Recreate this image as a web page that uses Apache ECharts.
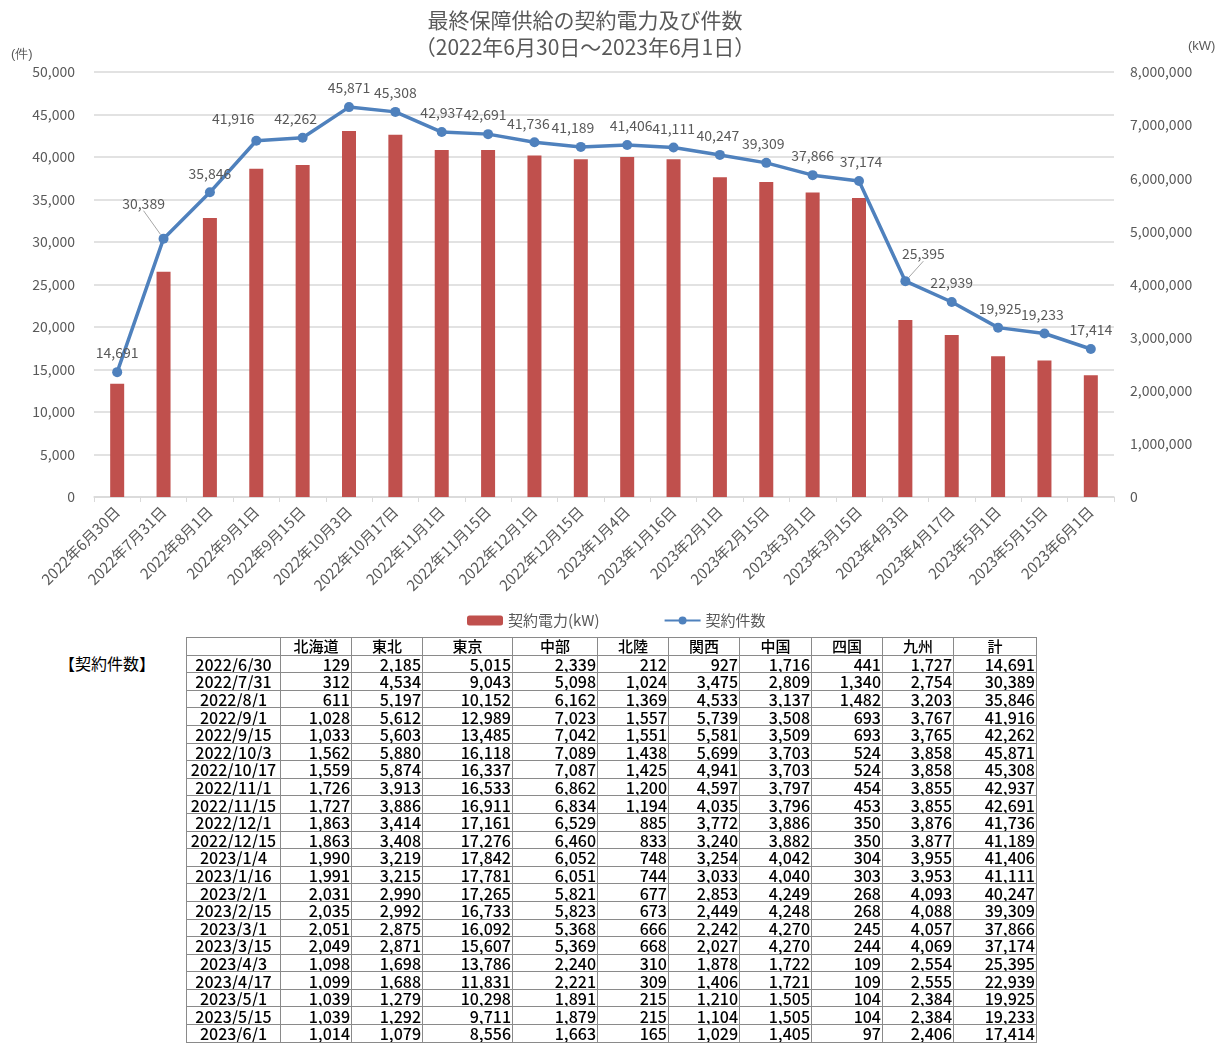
<!DOCTYPE html>
<html>
<head>
  <meta charset="utf-8">
  <title>最終保障供給の契約電力及び件数</title>
  <script src="https://cdn.jsdelivr.net/npm/echarts@6/dist/echarts.min.js"></script>
  <style>
    body { margin: 0; background: #ffffff; font-family: "Noto Sans CJK JP", sans-serif; }
    #chart { position: absolute; left: 0; top: 0; width: 1227px; height: 640px; }
    .tbl-title { position: absolute; left: 59px; top: 653px; font-size: 16px; color: #000; font-weight: 400; line-height: 20px; }
    table.data {
      position: absolute; left: 186px; top: 637px;
      border-collapse: collapse; table-layout: fixed;
      font-size: 16px; color: #000; font-weight: 500;
    }
    table.data td {
      border: 1px solid #8a8a8a; height: 16.6px; line-height: 16px;
      padding: 0 1px; text-align: right; white-space: nowrap; overflow: hidden;
    }
    table.data td.c { text-align: center; }
    table.data tr.head td { text-align: center; font-size: 15px; }
  </style>
</head>
<body>
<div id="chart"></div>
<div class="tbl-title">【契約件数】</div>
<table class="data" id="tbl"></table>
<script>
  // 日付
  var dates = ['2022/6/30', '2022/7/31', '2022/8/1', '2022/9/1', '2022/9/15', '2022/10/3', '2022/10/17',
    '2022/11/1', '2022/11/15', '2022/12/1', '2022/12/15', '2023/1/4', '2023/1/16', '2023/2/1', '2023/2/15',
    '2023/3/1', '2023/3/15', '2023/4/3', '2023/4/17', '2023/5/1', '2023/5/15', '2023/6/1'];

  // 契約電力(kW) ※グラフから読み取り
  var power = [2130000, 4240000, 5250000, 6180000, 6250000, 6890000, 6820000, 6530000, 6530000, 6430000,
    6360000, 6400000, 6360000, 6020000, 5930000, 5730000, 5630000, 3330000, 3050000, 2650000, 2570000, 2290000];

  // エリア別契約件数
  var regions = ['北海道', '東北', '東京', '中部', '北陸', '関西', '中国', '四国', '九州', '計'];
  var hokkaido = [129, 312, 611, 1028, 1033, 1562, 1559, 1726, 1727, 1863, 1863, 1990, 1991, 2031, 2035, 2051, 2049, 1098, 1099, 1039, 1039, 1014];
  var tohoku = [2185, 4534, 5197, 5612, 5603, 5880, 5874, 3913, 3886, 3414, 3408, 3219, 3215, 2990, 2992, 2875, 2871, 1698, 1688, 1279, 1292, 1079];
  var tokyo = [5015, 9043, 10152, 12989, 13485, 16118, 16337, 16533, 16911, 17161, 17276, 17842, 17781, 17265, 16733, 16092, 15607, 13786, 11831, 10298, 9711, 8556];
  var chubu = [2339, 5098, 6162, 7023, 7042, 7089, 7087, 6862, 6834, 6529, 6460, 6052, 6051, 5821, 5823, 5368, 5369, 2240, 2221, 1891, 1879, 1663];
  var hokuriku = [212, 1024, 1369, 1557, 1551, 1438, 1425, 1200, 1194, 885, 833, 748, 744, 677, 673, 666, 668, 310, 309, 215, 215, 165];
  var kansai = [927, 3475, 4533, 5739, 5581, 5699, 4941, 4597, 4035, 3772, 3240, 3254, 3033, 2853, 2449, 2242, 2027, 1878, 1406, 1210, 1104, 1029];
  var chugoku = [1716, 2809, 3137, 3508, 3509, 3703, 3703, 3797, 3796, 3886, 3882, 4042, 4040, 4249, 4248, 4270, 4270, 1722, 1721, 1505, 1505, 1405];
  var shikoku = [441, 1340, 1482, 693, 693, 524, 524, 454, 453, 350, 350, 304, 303, 268, 268, 245, 244, 109, 109, 104, 104, 97];
  var kyushu = [1727, 2754, 3203, 3767, 3765, 3858, 3858, 3855, 3855, 3876, 3877, 3955, 3953, 4093, 4088, 4057, 4069, 2554, 2555, 2384, 2384, 2406];
  var total = [14691, 30389, 35846, 41916, 42262, 45871, 45308, 42937, 42691, 41736, 41189, 41406, 41111, 40247, 39309, 37866, 37174, 25395, 22939, 19925, 19233, 17414];

  // ラベル位置の微調整 [dx, dy]
  var labelShift = [[0, 0], [-20, -16], [0, 0], [-23, -3], [-7, 0], [0, 0], [0, 0], [0, 0], [-3, 0], [-6, 0], [-8, 0],
    [4, 0], [0, 0], [-2, 0], [-3, 0], [0, 0], [2, 0], [18, -8], [0, 0], [2, 0], [-2, 0], [0, 0]];
  var leader = [1, 17];

  var fmt = function (v) { return Number(v).toLocaleString('en-US'); };

  var xLabels = dates.map(function (d) {
    var p = d.split('/');
    return p[0] + '年' + p[1] + '月' + p[2] + '日';
  });

  var lineData = total.map(function (v, i) {
    var item = { value: v };
    if (leader.indexOf(i) >= 0) {
      item.labelLine = { show: true, lineStyle: { color: '#a6a6a6', width: 1 } };
    }
    return item;
  });

  var chart = echarts.init(document.getElementById('chart'));
  var txt = '#595959';
  chart.setOption({
    textStyle: { fontFamily: 'Noto Sans CJK JP' },
    title: {
      text: '最終保障供給の契約電力及び件数\n（2022年6月30日～2023年6月1日）',
      left: 580, top: 2, textAlign: 'center',
      textStyle: { fontSize: 21, fontWeight: 'normal', color: txt, lineHeight: 27 }
    },
    graphic: [
      { type: 'text', left: 11, top: 48, style: { text: '(件)', fontSize: 13, fill: txt } },
      { type: 'text', left: 1188, top: 40, style: { text: '(kW)', fontSize: 13, fill: txt } }
    ],
    legend: {
      left: 462, top: 608, itemWidth: 36, itemHeight: 10, itemGap: 64,
      textStyle: { fontSize: 15, color: txt },
      data: ['契約電力(kW)', '契約件数']
    },
    grid: { left: 94, right: 113, top: 72, bottom: 143 },
    xAxis: {
      type: 'category', data: xLabels,
      axisLine: { lineStyle: { color: '#d9d9d9', width: 1.5 } },
      axisTick: { show: true, length: 5, lineStyle: { color: '#d9d9d9' } },
      axisLabel: { rotate: 45, fontSize: 15, color: txt, margin: 12, interval: 0 }
    },
    yAxis: [
      {
        type: 'value', min: 0, max: 50000, interval: 5000,
        axisLine: { show: false }, axisTick: { show: false },
        axisLabel: { fontSize: 14, color: txt, margin: 19, formatter: fmt },
        splitLine: { lineStyle: { color: '#d9d9d9', width: 1.5 } }
      },
      {
        type: 'value', min: 0, max: 8000000, interval: 1000000,
        axisLine: { show: false }, axisTick: { show: false },
        axisLabel: { fontSize: 14, color: txt, margin: 16, formatter: fmt },
        splitLine: { show: false }
      }
    ],
    series: [
      {
        name: '契約電力(kW)', type: 'bar', yAxisIndex: 1, data: power,
        barWidth: 14,
        itemStyle: { color: '#c0504d' }
      },
      {
        name: '契約件数', type: 'line', yAxisIndex: 0, data: lineData,
        symbol: 'circle', symbolSize: 10,
        lineStyle: { color: '#4f81bd', width: 3.5 },
        itemStyle: { color: '#4f81bd' },
        label: {
          show: true, position: 'top', distance: 7, fontSize: 14, color: txt,
          formatter: function (p) { return fmt(p.value); }
        },
        labelLine: { show: false },
        labelLayout: function (p) {
          var s = labelShift[p.dataIndex] || [0, 0];
          return { dx: s[0], dy: s[1] };
        },
        z: 3
      }
    ]
  });

  // 表の作成
  var cols = [hokkaido, tohoku, tokyo, chubu, hokuriku, kansai, chugoku, shikoku, kyushu, total];
  var widths = [94, 71, 71, 90, 85, 71, 71, 72, 71, 71, 83];
  var html = '<colgroup>' + widths.map(function (w) { return '<col style="width:' + w + 'px">'; }).join('') + '</colgroup>';
  html += '<tr class="head"><td></td>' + regions.map(function (r) { return '<td>' + r + '</td>'; }).join('') + '</tr>';
  for (var i = 0; i < dates.length; i++) {
    html += '<tr><td class="c">' + dates[i] + '</td>';
    for (var j = 0; j < cols.length; j++) {
      html += '<td>' + fmt(cols[j][i]) + '</td>';
    }
    html += '</tr>';
  }
  document.getElementById('tbl').innerHTML = html;
</script>
</body>
</html>
